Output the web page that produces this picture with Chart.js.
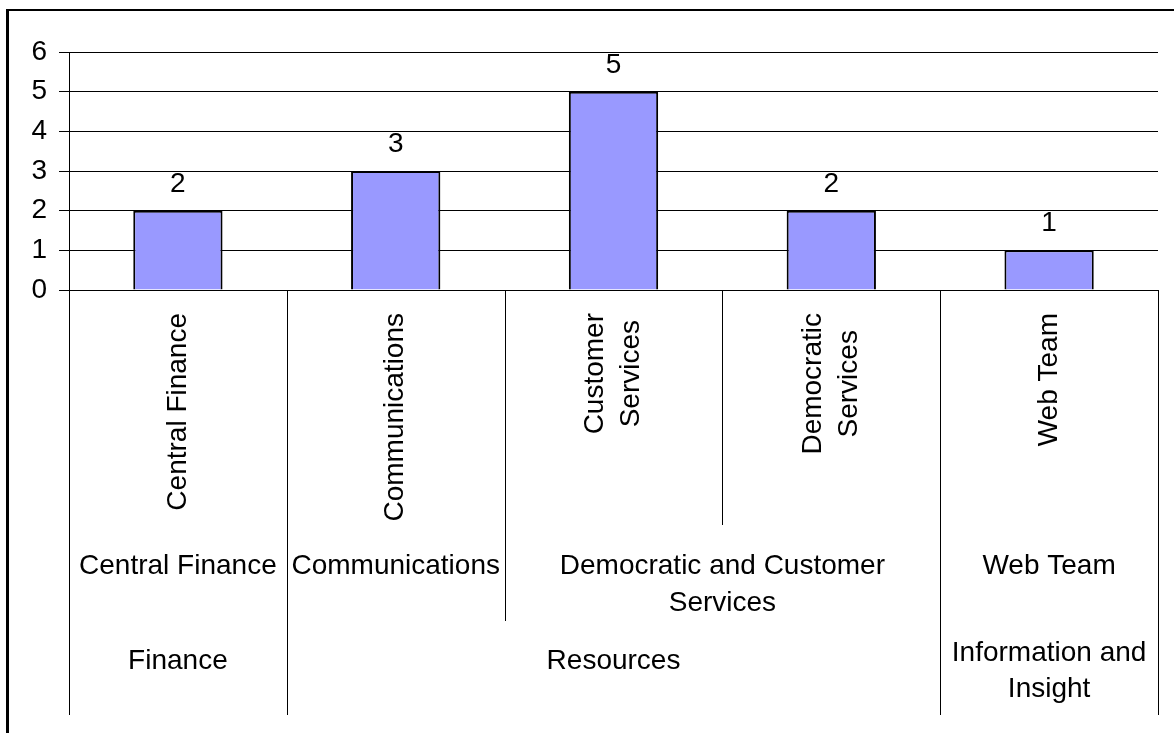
<!DOCTYPE html>
<html>
<head>
<meta charset="utf-8">
<script src="https://cdn.jsdelivr.net/npm/chart.js@4/dist/chart.umd.min.js"></script>
<style>
  body { margin: 0; background: #fff; }
  canvas { display: block; }
</style>
</head>
<body>
<canvas id="grafico" width="1174" height="733"></canvas>
<script>
// teams (bottom level of the category axis), one bar each
const equipes = [['Central Finance'], ['Communications'], ['Customer', 'Services'], ['Democratic', 'Services'], ['Web Team']];
const contagem = [2, 3, 5, 2, 1];

// middle level: services and how many teams each one covers
const servicos = [['Central Finance'], ['Communications'], ['Democratic and Customer', 'Services'], ['Web Team']];
const servicosSpan = [1, 1, 2, 1];

// top level: directorates
const diretorias = [['Finance'], ['Resources'], ['Information and', 'Insight']];
const diretoriasSpan = [1, 3, 1];

const yMax = 6;
const yPasso = 1;

const fonte = '"Liberation Sans", Arial, sans-serif';

function limites(grafico) {
  const xs = grafico.scales.x;
  const area = grafico.chartArea;
  const n = contagem.length;
  let bs = [];
  for (let i = 0; i <= n; i++) {
    if (i == 0) bs.push(area.left);
    else if (i == n) bs.push(area.right);
    else bs.push((xs.getPixelForValue(i - 1) + xs.getPixelForValue(i)) / 2);
  }
  return bs;
}

function fimDosGrupos(spans) {
  let fins = [0];
  let soma = 0;
  spans.forEach(s => { soma += s; fins.push(soma); });
  return fins;
}

const eixoMultinivel = {
  id: 'eixoMultinivel',
  afterDraw(grafico) {
    const ctx = grafico.ctx;
    const area = grafico.chartArea;
    const bs = limites(grafico);
    const finsServ = fimDosGrupos(servicosSpan);
    const finsDir = fimDosGrupos(diretoriasSpan);
    const xs = grafico.scales.x;

    ctx.save();
    // outer frame (left and top)
    ctx.fillStyle = '#000';
    ctx.fillRect(6, 9, 3, 733);
    ctx.fillRect(6, 9, 1168, 2);

    // separators below the axis
    ctx.strokeStyle = '#000';
    ctx.lineWidth = 1;
    bs.forEach((x, i) => {
      let fim = 525;
      if (finsServ.includes(i)) fim = 621;
      if (finsDir.includes(i)) fim = 715;
      const px = Math.round(x) + 0.5;
      ctx.beginPath();
      ctx.moveTo(px, area.bottom);
      ctx.lineTo(px, fim);
      ctx.stroke();
    });

    ctx.fillStyle = '#000';
    ctx.font = '28px ' + fonte;

    // rotated team labels
    equipes.forEach((linhas, i) => {
      const cx = xs.getPixelForValue(i);
      let maior = 0;
      linhas.forEach(l => { maior = Math.max(maior, ctx.measureText(l).width); });
      ctx.save();
      ctx.translate(cx, area.bottom + 23);
      ctx.rotate(-Math.PI / 2);
      ctx.textAlign = 'center';
      ctx.textBaseline = 'middle';
      linhas.forEach((l, k) => {
        ctx.fillText(l, -maior / 2, (k - (linhas.length - 1) / 2) * 36);
      });
      ctx.restore();
    });

    ctx.textAlign = 'center';
    ctx.textBaseline = 'middle';

    // services
    servicos.forEach((linhas, g) => {
      const cx = (bs[finsServ[g]] + bs[finsServ[g + 1]]) / 2;
      linhas.forEach((l, k) => ctx.fillText(l, cx, 566 + k * 37));
    });

    // directorates
    diretorias.forEach((linhas, g) => {
      const cx = (bs[finsDir[g]] + bs[finsDir[g + 1]]) / 2;
      const y0 = 661 - (linhas.length - 1) * 8;
      linhas.forEach((l, k) => ctx.fillText(l, cx, y0 + k * 36));
    });

    // value labels above the bars
    ctx.textBaseline = 'alphabetic';
    grafico.getDatasetMeta(0).data.forEach((barra, i) => {
      ctx.fillText(String(contagem[i]), barra.x, barra.y - 19);
    });
    ctx.restore();
  }
};

const graficoEquipes = new Chart(document.getElementById('grafico'), {
  type: 'bar',
  data: {
    labels: equipes,
    datasets: [{
      data: contagem,
      backgroundColor: '#9999FF',
      borderColor: '#000',
      borderWidth: 2,
      barPercentage: 0.41,
      categoryPercentage: 1
    }]
  },
  options: {
    responsive: false,
    animation: false,
    devicePixelRatio: 1,
    layout: { padding: { top: 52, right: 16, left: 0, bottom: 0 } },
    plugins: { legend: { display: false }, tooltip: { enabled: false } },
    scales: {
      x: {
        ticks: { display: false },
        grid: { display: false },
        border: { display: false },
        afterFit: s => { s.height = 443; }
      },
      y: {
        min: 0,
        max: yMax,
        ticks: { stepSize: yPasso, color: '#000', padding: 12, font: { size: 28, family: fonte } },
        grid: { color: '#000', lineWidth: 1, tickLength: 10 },
        border: { color: '#000', width: 1 },
        afterFit: s => { s.width = 69; }
      }
    }
  },
  plugins: [eixoMultinivel]
});
</script>
</body>
</html>
